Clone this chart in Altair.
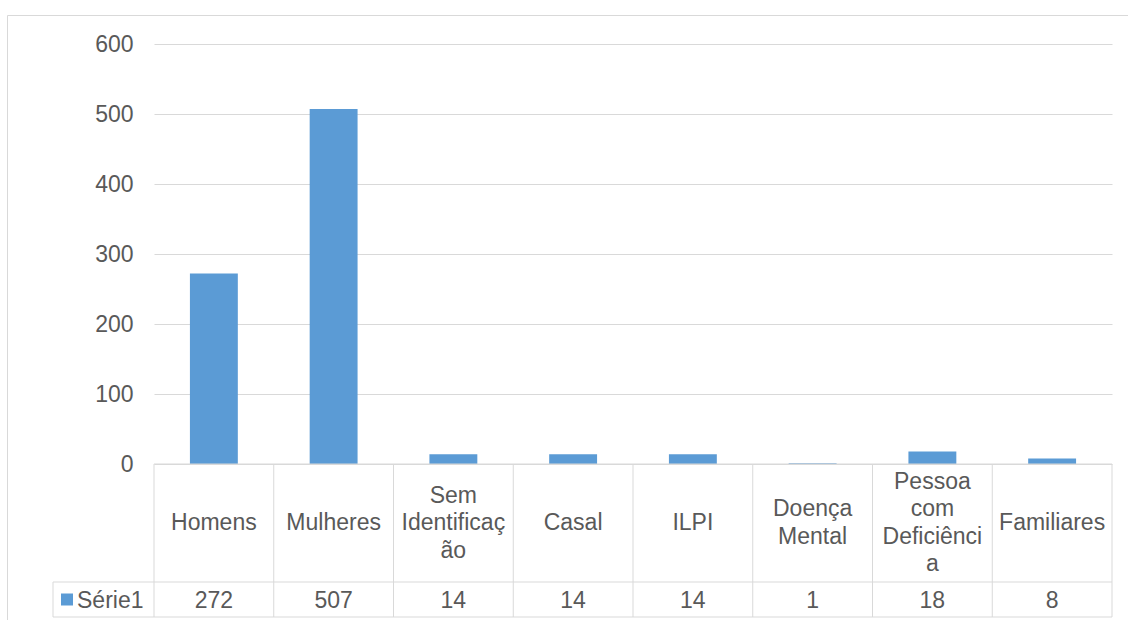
import altair as alt
import pandas as pd

# Chart data
categories = ["Homens", "Mulheres", "Sem Identificação", "Casal", "ILPI",
              "Doença Mental", "Pessoa com Deficiência", "Familiares"]
# Category names as they wrap inside the data-table cells
cell_labels = ["Homens", "Mulheres", "Sem\nIdentificaç\não", "Casal", "ILPI",
               "Doença\nMental", "Pessoa\ncom\nDeficiênci\na", "Familiares"]
values = [272, 507, 14, 14, 14, 1, 18, 8]
series_name = "Série1"
y_ticks = [0, 100, 200, 300, 400, 500, 600]

BLUE = "#5B9BD5"
GRID = "#D9D9D9"
TEXT = "#595959"
FONT = "Liberation Sans"
FS = 23
LH = 27.5                # line height inside table cells

W, H = 958, 420          # plot area
ROW_SEP = 538            # line between category row and value row
TABLE_BOTTOM = 573
LEGEND_LEFT = -101       # left edge of the series-name cell

df = pd.DataFrame({"cat": categories, "label": cell_labels, "value": values})
one = alt.Data(values=[{"k": 0}])

xscale = alt.Scale(paddingInner=0, paddingOuter=0)
X = alt.X("cat:N", sort=categories, axis=None, scale=xscale)

bars = alt.Chart(df).mark_bar(color=BLUE, width=alt.RelativeBandSize(0.4)).encode(
    x=X,
    y=alt.Y("value:Q", title=None,
            scale=alt.Scale(domain=[0, 600]),
            axis=alt.Axis(values=y_ticks, domain=False, ticks=False,
                          labelFontSize=FS, labelColor=TEXT, labelFont=FONT,
                          labelPadding=21, gridColor=GRID, gridWidth=1)),
)

# Data table: cell borders
col_lines = alt.Chart(df).mark_rule(color=GRID, strokeWidth=1).encode(
    x=alt.X("cat:N", sort=categories, axis=None, scale=xscale, bandPosition=0),
    y=alt.value(H), y2=alt.value(TABLE_BOTTOM),
)
right_edge = alt.Chart(one).mark_rule(color=GRID, strokeWidth=1).encode(
    x=alt.value(W), y=alt.value(H), y2=alt.value(TABLE_BOTTOM))
legend_edge = alt.Chart(one).mark_rule(color=GRID, strokeWidth=1).encode(
    x=alt.value(LEGEND_LEFT), y=alt.value(ROW_SEP), y2=alt.value(TABLE_BOTTOM))
top_line = alt.Chart(one).mark_rule(color=GRID, strokeWidth=1).encode(
    x=alt.value(0), x2=alt.value(W), y=alt.value(H))
sep_line = alt.Chart(one).mark_rule(color=GRID, strokeWidth=1).encode(
    x=alt.value(LEGEND_LEFT), x2=alt.value(W), y=alt.value(ROW_SEP))
bottom_line = alt.Chart(one).mark_rule(color=GRID, strokeWidth=1).encode(
    x=alt.value(LEGEND_LEFT), x2=alt.value(W), y=alt.value(TABLE_BOTTOM))

# Outer chart frame
frame_left = alt.Chart(one).mark_rule(color=GRID, strokeWidth=1).encode(
    x=alt.value(-146.5), y=alt.value(-28.5), y2=alt.value(580))
frame_top = alt.Chart(one).mark_rule(color=GRID, strokeWidth=1).encode(
    x=alt.value(-146.5), x2=alt.value(980), y=alt.value(-28.5))

# Data table: category names, each block vertically centred in its cell
cell_mid = (H + ROW_SEP) / 2
cat_layers = []
for n in range(1, 5):
    cat_layers.append(
        alt.Chart(df)
        .transform_calculate(nlines="split(datum.label, '\\n').length")
        .transform_filter(f"datum.nlines == {n}")
        .mark_text(font=FONT, fontSize=FS, color=TEXT, lineBreak="\n",
                   lineHeight=LH, align="center", baseline="middle")
        .encode(x=X, y=alt.value(cell_mid - (n - 1) * LH / 2), text="label:N")
    )

val_text = alt.Chart(df).mark_text(
    font=FONT, fontSize=FS, color=TEXT, align="center", baseline="middle").encode(
    x=X, y=alt.value((ROW_SEP + TABLE_BOTTOM) / 2 + 1), text="value:Q")

legend_key = alt.Chart(one).mark_square(size=144, filled=True, color=BLUE, opacity=1).encode(
    x=alt.value(-87), y=alt.value((ROW_SEP + TABLE_BOTTOM) / 2))
legend_text = alt.Chart(alt.Data(values=[{"name": series_name}])).mark_text(
    font=FONT, fontSize=FS, color=TEXT, align="left", baseline="middle").encode(
    x=alt.value(-77), y=alt.value((ROW_SEP + TABLE_BOTTOM) / 2 + 1), text="name:N")

chart = alt.layer(
    frame_left, frame_top,
    bars, col_lines, right_edge, legend_edge, top_line, sep_line, bottom_line,
    *cat_layers, val_text, legend_key, legend_text,
).properties(
    width=W, height=H,
    autosize=alt.AutoSizeParams(type="none"),
    padding={"left": 154, "top": 44, "right": 16, "bottom": 156},
    background="white",
).configure_view(stroke=None)

chart.save("out.html", embed_options={"renderer": "svg", "actions": False})
